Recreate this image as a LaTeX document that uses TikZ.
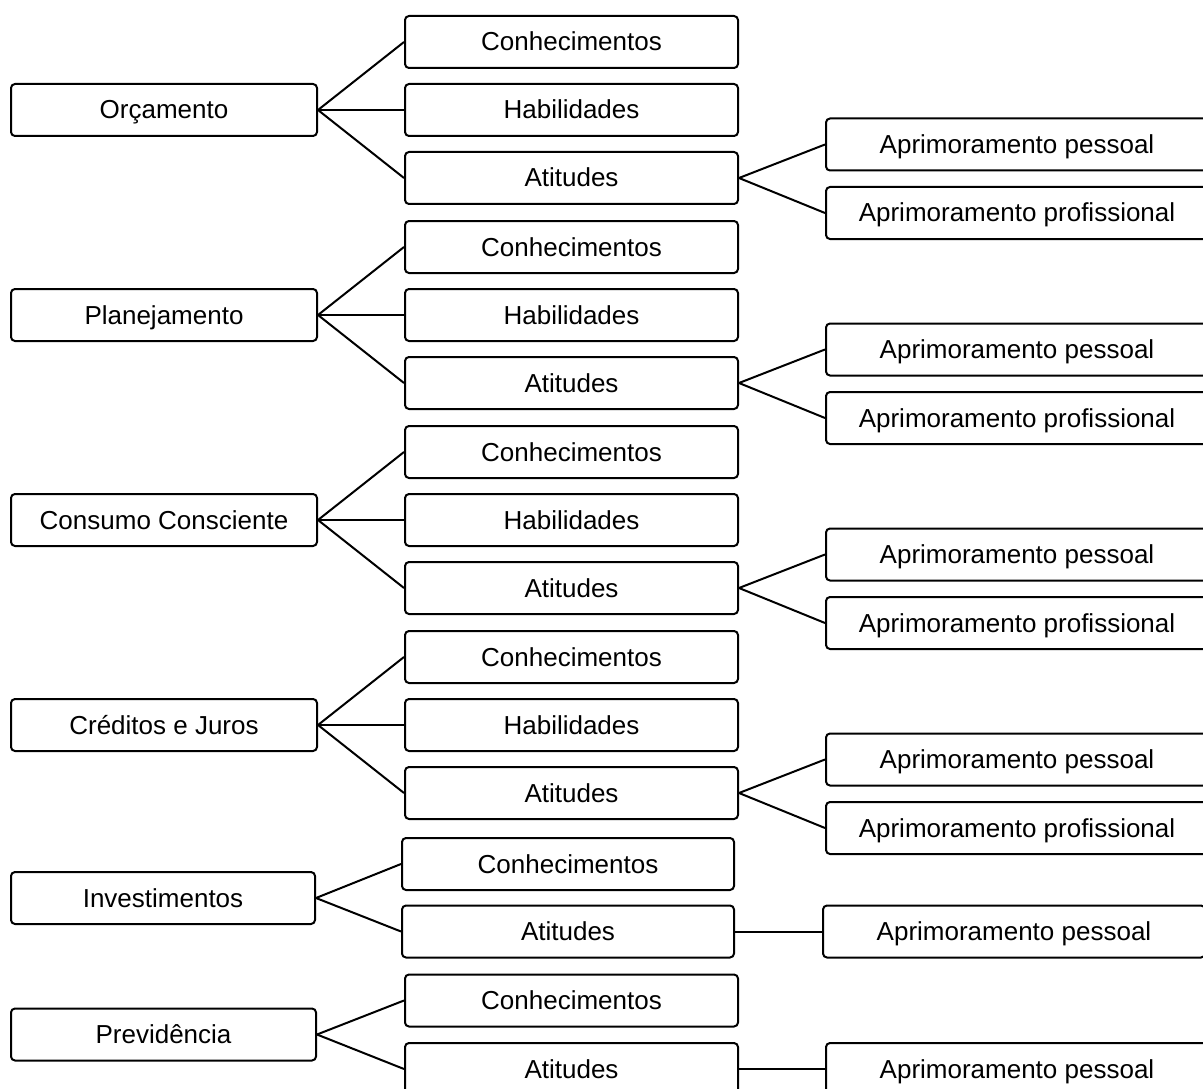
\documentclass[tikz,border=0pt]{standalone}
\usepackage{fontspec}
\setmainfont{Liberation Sans}
\begin{document}
\begin{tikzpicture}[x=1pt,y=-1pt,
  box/.style={draw=black,line width=2pt,rounded corners=4pt,inner sep=0pt,
    minimum height=52pt,text height=23.5pt,text depth=5.5pt,align=center,
    font=\fontsize{26pt}{31pt}\selectfont},
  rootbox/.style={box,minimum width=306pt},
  kidbox/.style={box,minimum width=333pt},
  grandbox/.style={box,minimum width=382pt},
  link/.style={line width=2pt}]
\useasboundingbox (0,0) rectangle (1203,1089);
% groups 1-4
\foreach \g/\y/\name in {1/110/Orçamento,2/315/Planejamento,3/520/Consumo Consciente,4/725/Créditos e Juros}{
  \node[rootbox] (r\g) at (164,\y) {\name};
  \node[kidbox] (k\g a) at (571.5,\y-68) {Conhecimentos};
  \node[kidbox] (k\g b) at (571.5,\y) {Habilidades};
  \node[kidbox] (k\g c) at (571.5,\y+68) {Atitudes};
  \node[grandbox] (g\g a) at (1017,\y+34.5) {Aprimoramento pessoal};
  \node[grandbox] (g\g b) at (1017,\y+103) {Aprimoramento profissional};
  \draw[link] (r\g.east) -- (k\g a.west);
  \draw[link] (r\g.east) -- (k\g b.west);
  \draw[link] (r\g.east) -- (k\g c.west);
  \draw[link] (k\g c.east) -- (g\g a.west);
  \draw[link] (k\g c.east) -- (g\g b.west);
}
% group 5
\node[rootbox,minimum width=304pt] (r5) at (163,898) {Investimentos};
\node[kidbox,minimum width=332pt] (k5a) at (568,864) {Conhecimentos};
\node[kidbox,minimum width=332pt] (k5c) at (568,931.5) {Atitudes};
\node[grandbox] (g5a) at (1014,931.5) {Aprimoramento pessoal};
\draw[link] (r5.east) -- (k5a.west);
\draw[link] (r5.east) -- (k5c.west);
\draw[link] (k5c.east) -- (g5a.west);
% group 6
\node[rootbox,minimum width=305pt] (r6) at (163.5,1034.5) {Previdência};
\node[kidbox] (k6a) at (571.5,1000.5) {Conhecimentos};
\node[kidbox] (k6c) at (571.5,1069) {Atitudes};
\node[grandbox] (g6a) at (1017,1069) {Aprimoramento pessoal};
\draw[link] (r6.east) -- (k6a.west);
\draw[link] (r6.east) -- (k6c.west);
\draw[link] (k6c.east) -- (g6a.west);
\end{tikzpicture}
\end{document}
